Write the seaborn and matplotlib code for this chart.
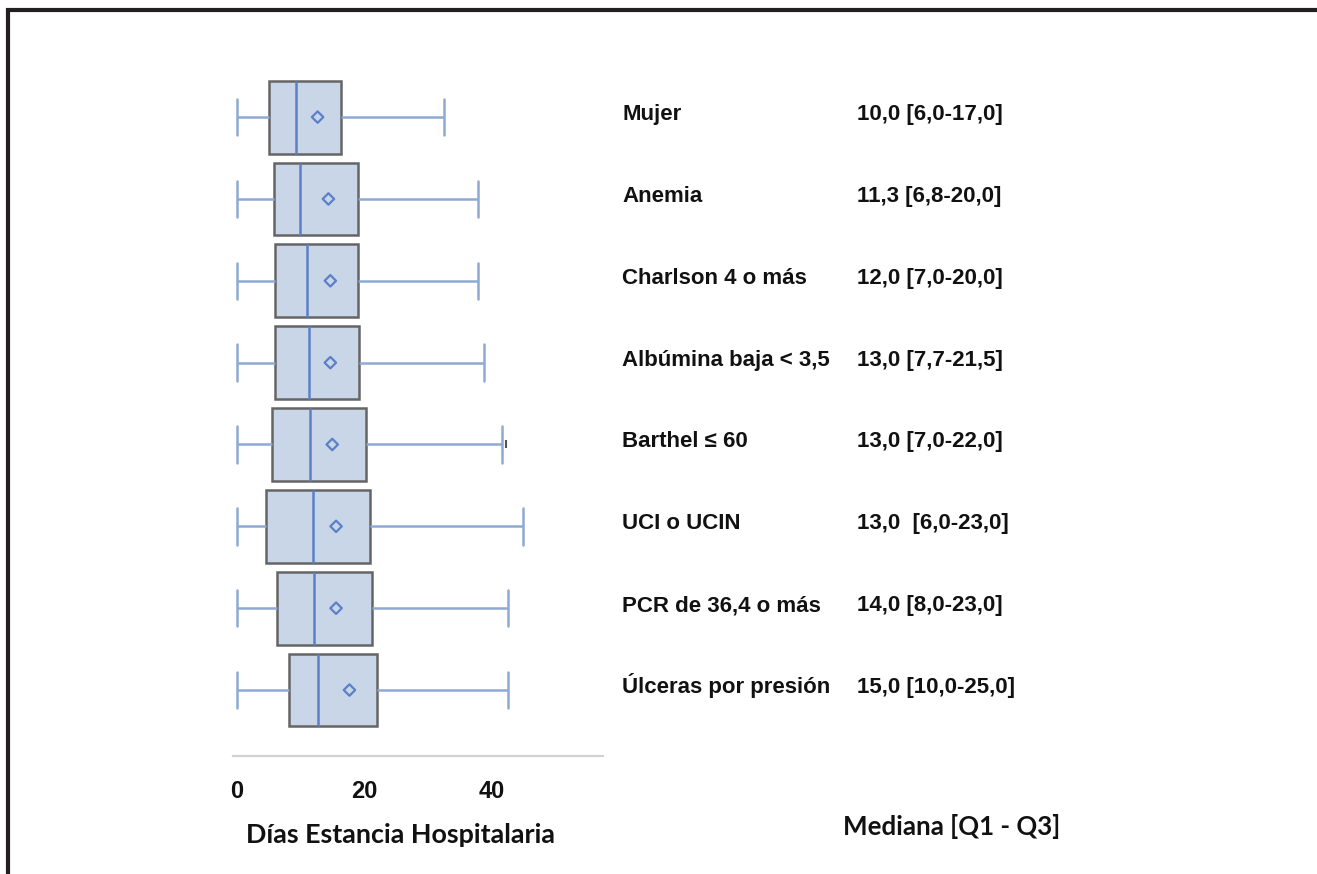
import numpy as np
import pandas as pd
import matplotlib
matplotlib.use("Agg")
import matplotlib.pyplot as plt
import matplotlib.transforms as mtransforms
from matplotlib.lines import Line2D
import seaborn as sns

# ---- data ----
categories = ["Mujer", "Anemia", "Charlson 4 o más", "Albúmina baja < 3,5",
              "Barthel ≤ 60", "UCI o UCIN", "PCR de 36,4 o más", "Úlceras por presión"]
whisker_low = [0, 0, 0, 0, 0, 0, 0, 0]
q1 = [5.1, 5.9, 6.0, 6.0, 5.6, 4.6, 6.4, 8.2]
median = [9.3, 10.0, 11.1, 11.4, 11.5, 12.0, 12.2, 12.8]
q3 = [16.3, 19.0, 19.0, 19.2, 20.3, 21.0, 21.2, 22.1]
whisker_high = [32.6, 37.8, 37.9, 38.8, 41.7, 45.0, 42.6, 42.6]
means = [12.7, 14.4, 14.7, 14.7, 15.0, 15.6, 15.6, 17.7]
outlier_cat = ["Barthel ≤ 60"]
outlier_val = [42.3]
summary_text = ["10,0 [6,0-17,0]", "11,3 [6,8-20,0]", "12,0 [7,0-20,0]",
                "13,0 [7,7-21,5]", "13,0 [7,0-22,0]", "13,0  [6,0-23,0]",
                "14,0 [8,0-23,0]", "15,0 [10,0-25,0]"]
xticks = [0, 20, 40]
xlabel = "Días Estancia Hospitalaria"
right_title = "Mediana [Q1 - Q3]"

# five-number summary per category -> long table for seaborn
rows = []
for c, a, b, m, d, e in zip(categories, whisker_low, q1, median, q3, whisker_high):
    for v in (a, b, m, d, e):
        rows.append({"cat": c, "val": v})
df = pd.DataFrame(rows)

sns.set_theme(style="white")
plt.rcParams["font.family"] = ["Liberation Sans", "DejaVu Sans"]

W, H = 1317, 874
fig = plt.figure(figsize=(W / 100, H / 100), dpi=100)
fig.patch.set_facecolor("white")

ax_left, ax_right = 233 / W, 603 / W
ax_bot_px, ax_top_px = 756, 68
ax = fig.add_axes([ax_left, 1 - ax_bot_px / H, ax_right - ax_left, (ax_bot_px - ax_top_px) / H])

box_fill = "#c9d6e8"
box_edge = "#656565"
blue = "#5b80c8"
whisk = "#8fa9d2"

sns.boxplot(data=df, x="val", y="cat", order=categories, whis=np.inf, width=0.89,
            color=box_fill, ax=ax, showfliers=False,
            boxprops=dict(facecolor=box_fill, edgecolor=box_edge, linewidth=1.8),
            whiskerprops=dict(color=whisk, linewidth=1.8),
            capprops=dict(color=whisk, linewidth=1.8),
            medianprops=dict(color=blue, linewidth=1.8))

pos = {c: i for i, c in enumerate(categories)}
ax.scatter(means, [pos[c] for c in categories], marker="D", s=34,
           facecolors="none", edgecolors=blue, linewidths=1.6, zorder=5)
ax.scatter(outlier_val, [pos[c] for c in outlier_cat], marker="|", s=30,
           color="#555555", linewidths=1.5, zorder=5)

ax.set_xlim(-0.58, 57.5)
ax.set_ylim(7.806, -0.6)
ax.set_xticks(xticks)
ax.set_xticklabels([str(t) for t in xticks], fontsize=17, fontweight="bold", color="#111111")
ax.tick_params(axis="x", length=5, width=1.2, color="#cccccc", pad=12)
ax.tick_params(axis="y", left=False, labelleft=False)
ax.set_ylabel("")
ax.set_xlabel("")
for s in ["top", "right", "left"]:
    ax.spines[s].set_visible(False)
ax.spines["bottom"].set_color("#d2d2d2")
ax.spines["bottom"].set_linewidth(1.6)

# right-side texts aligned with rows
tr = mtransforms.blended_transform_factory(fig.transFigure, ax.transData)
for c, t in zip(categories, summary_text):
    y = pos[c] + 0.035
    fig.text(622 / W, y, c, transform=tr, fontsize=16, fontweight="bold",
             color="#111111", ha="left", va="baseline")
    fig.text(857 / W, y, t, transform=tr, fontsize=16, fontweight="bold",
             color="#111111", ha="left", va="baseline")

fig.text(246 / W, 1 - 843 / H, xlabel, fontsize=19.4, family=["Lato", "DejaVu Sans"],
         fontweight="bold", color="#111111", ha="left", va="baseline")
fig.text(843 / W, 1 - 835 / H, right_title, fontsize=18.6, family=["Lato", "DejaVu Sans"],
         fontweight="bold", color="#111111", ha="left", va="baseline")

# frame lines (top and left)
fig.add_artist(Line2D([6 / W, 1], [1 - 10 / H, 1 - 10 / H], transform=fig.transFigure,
                      color="#231f20", linewidth=3, solid_capstyle="butt"))
fig.add_artist(Line2D([8 / W, 8 / W], [0, 1 - 8 / H], transform=fig.transFigure,
                      color="#231f20", linewidth=3, solid_capstyle="butt"))

fig.savefig("out.png", dpi=100, facecolor="white")
